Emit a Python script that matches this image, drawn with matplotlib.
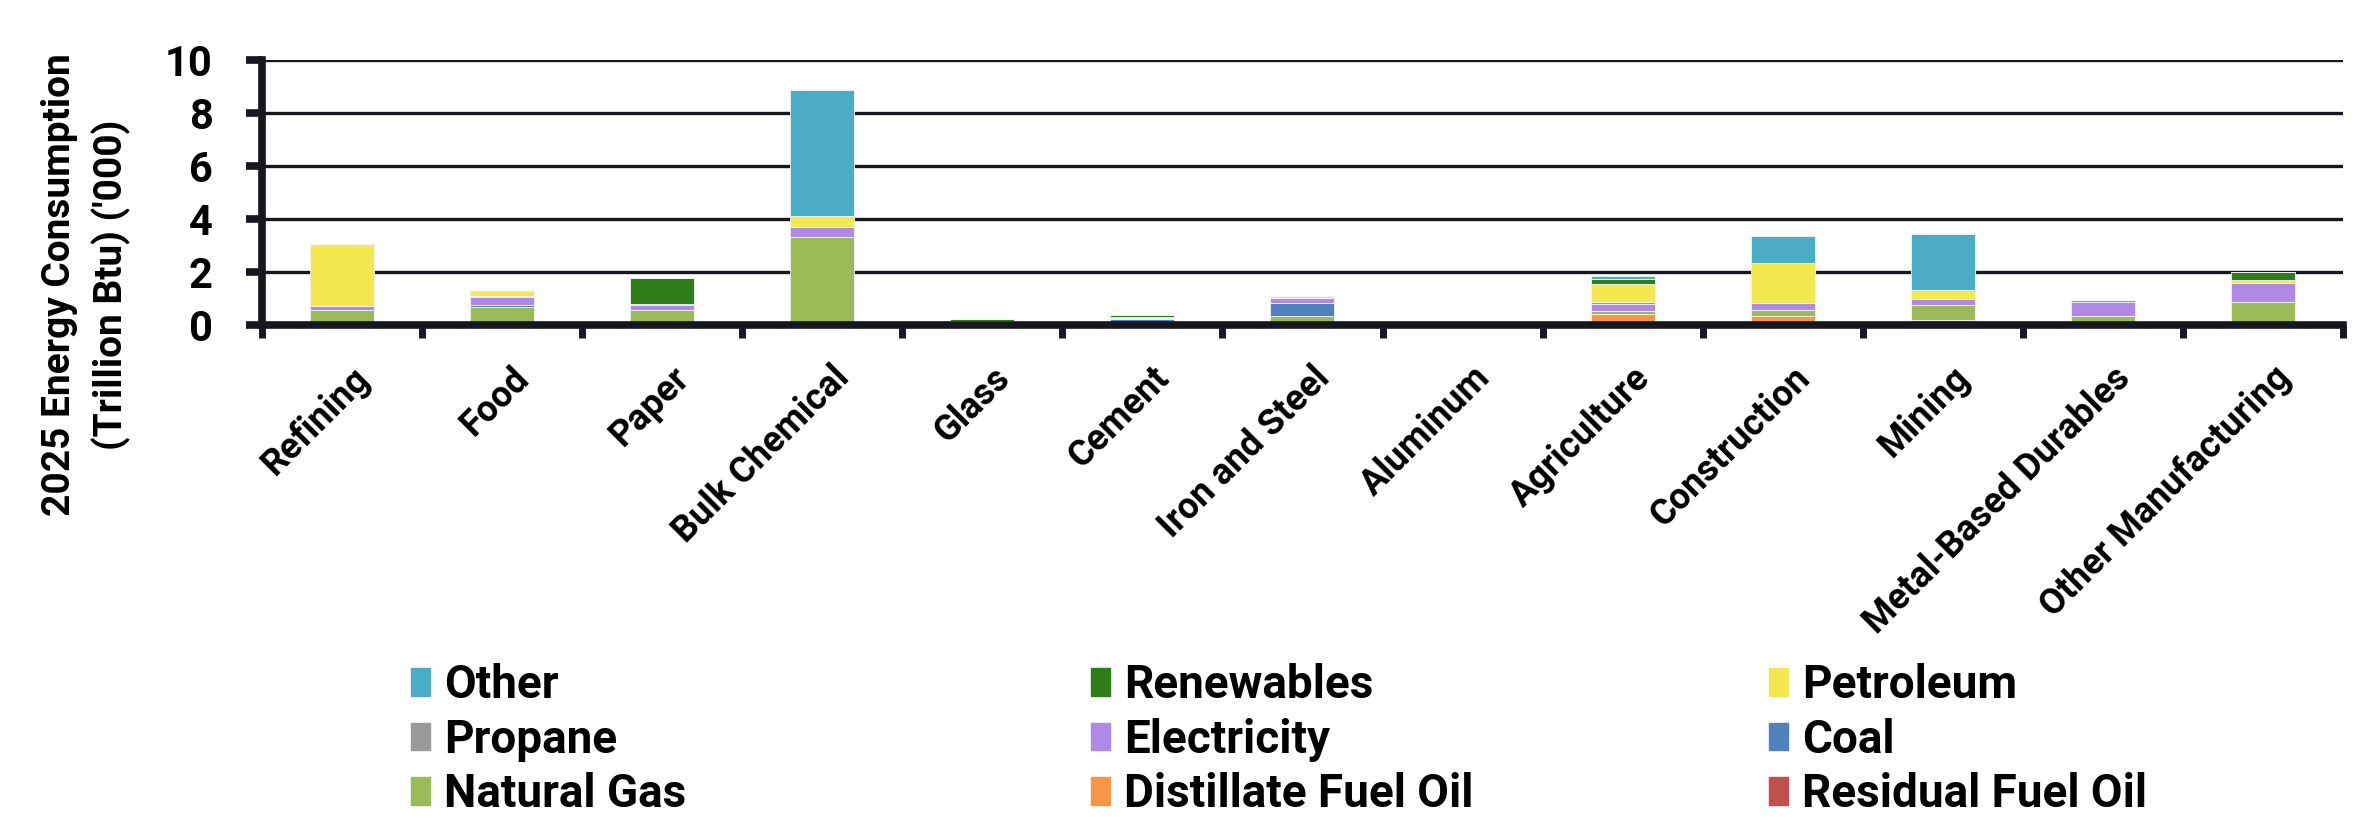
import numpy as np
import matplotlib
matplotlib.use('Agg')
import matplotlib.pyplot as plt
import matplotlib.patches as mpatches
import matplotlib.transforms as mtransforms

plt.rcParams['font.family'] = ['Roboto', 'DejaVu Sans']
plt.rcParams['font.weight'] = 'bold'

# data ('000 trillion Btu)
sectors = ['Refining', 'Food', 'Paper', 'Bulk Chemical', 'Glass', 'Cement',
           'Iron and Steel', 'Aluminum', 'Agriculture', 'Construction',
           'Mining', 'Metal-Based Durables', 'Other Manufacturing']

residual = [0.0, 0.0, 0.0, 0.0, 0.0, 0.0, 0.0, 0.0, 0.0, 0.0, 0.0, 0.0, 0.0]
distillate = [0.0, 0.0, 0.0, 0.0, 0.0, 0.0, 0.0, 0.0, 0.43, 0.35, 0.20, 0.0, 0.0]
natural_gas = [0.58, 0.67, 0.55, 3.31, 0.10, 0.10, 0.33, 0.05, 0.11, 0.23, 0.54, 0.35, 0.86]
coal = [0.0, 0.08, 0.0, 0.0, 0.0, 0.13, 0.51, 0.0, 0.0, 0.0, 0.0, 0.0, 0.0]
electricity = [0.12, 0.32, 0.21, 0.39, 0.04, 0.04, 0.19, 0.06, 0.27, 0.26, 0.25, 0.53, 0.74]
propane = [0.0, 0.02, 0.02, 0.0, 0.0, 0.0, 0.0, 0.0, 0.07, 0.0, 0.0, 0.05, 0.0]
petroleum = [2.34, 0.18, 0.0, 0.43, 0.0, 0.05, 0.05, 0.0, 0.68, 1.49, 0.32, 0.0, 0.09]
renewables = [0.0, 0.04, 0.98, 0.0, 0.10, 0.06, 0.0, 0.0, 0.18, 0.0, 0.0, 0.0, 0.30]
other = [0.0, 0.0, 0.0, 4.73, 0.0, 0.0, 0.0, 0.0, 0.12, 1.02, 2.14, 0.0, 0.0]

series = [
    ('Residual Fuel Oil', residual, '#C0504D'),
    ('Distillate Fuel Oil', distillate, '#F79646'),
    ('Natural Gas', natural_gas, '#9BBB59'),
    ('Coal', coal, '#4F81BD'),
    ('Electricity', electricity, '#B088E6'),
    ('Propane', propane, '#999999'),
    ('Petroleum', petroleum, '#F3E84E'),
    ('Renewables', renewables, '#2E7D18'),
    ('Other', other, '#4BACC6'),
]

dark = '#17171f'

fig = plt.figure(figsize=(23.69, 8.26), dpi=100)
ax = fig.add_axes([0.1106, 0.6065, 0.8784, 0.3209])

x = np.arange(len(sectors))
bottom = np.zeros(len(sectors))
handles = {}
for name, vals, col in series:
    vals = np.array(vals)
    ax.bar(x, vals, 0.4, bottom=bottom, color=col, edgecolor='#f4f4f4',
           linewidth=0.6, zorder=2)
    handles[name] = mpatches.Patch(color=col, label=name)
    bottom += vals

ax.set_xlim(-0.5, len(sectors) - 0.5)
ax.set_ylim(0, 10)
ax.set_yticks([0, 2, 4, 6, 8, 10])
ax.yaxis.grid(True, color=dark, linewidth=2.4, zorder=1)
ax.set_axisbelow(True)

for s in ['top', 'right']:
    ax.spines[s].set_visible(False)
for s in ['left', 'bottom']:
    ax.spines[s].set_linewidth(5.5)
    ax.spines[s].set_color(dark)
    ax.spines[s].set_zorder(5)

ax.tick_params(axis='y', length=11.5, width=5.5, color=dark, labelsize=30, pad=24)

# category ticks sit between the bars
ax.set_xticks(np.arange(len(sectors) + 1) - 0.5)
ax.set_xticklabels([])
ax.tick_params(axis='x', length=9.5, width=5, color=dark)
ax.set_xticks(x, minor=True)
ax.set_xticklabels(sectors, minor=True, rotation=45, ha='right', va='top',
                   rotation_mode='anchor', fontsize=26)
ax.tick_params(axis='x', which='minor', length=0, pad=25)
shift = mtransforms.ScaledTranslation(0.09, 0, fig.dpi_scale_trans)
for lab in ax.get_xticklabels(minor=True):
    lab.set_transform(lab.get_transform() + shift)

fig.text(0.0363, 0.655, "2025 Energy Consumption\n(Trillion Btu) ('000)",
         rotation=90, ha='center', va='center', fontsize=28,
         multialignment='center', linespacing=1.43)

columns = [['Other', 'Propane', 'Natural Gas'],
           ['Renewables', 'Electricity', 'Distillate Fuel Oil'],
           ['Petroleum', 'Coal', 'Residual Fuel Oil']]
col_x = [0.1735, 0.4605, 0.7467]
for cx, names in zip(col_x, columns):
    fig.legend(handles=[handles[n] for n in names], loc='upper left',
               bbox_to_anchor=(cx, 0.197), frameon=False, fontsize=33,
               handlelength=0.42, handleheight=0.55, handletextpad=0.3,
               labelspacing=0.23, borderpad=0, borderaxespad=0)

fig.savefig('out.png', dpi=100)
